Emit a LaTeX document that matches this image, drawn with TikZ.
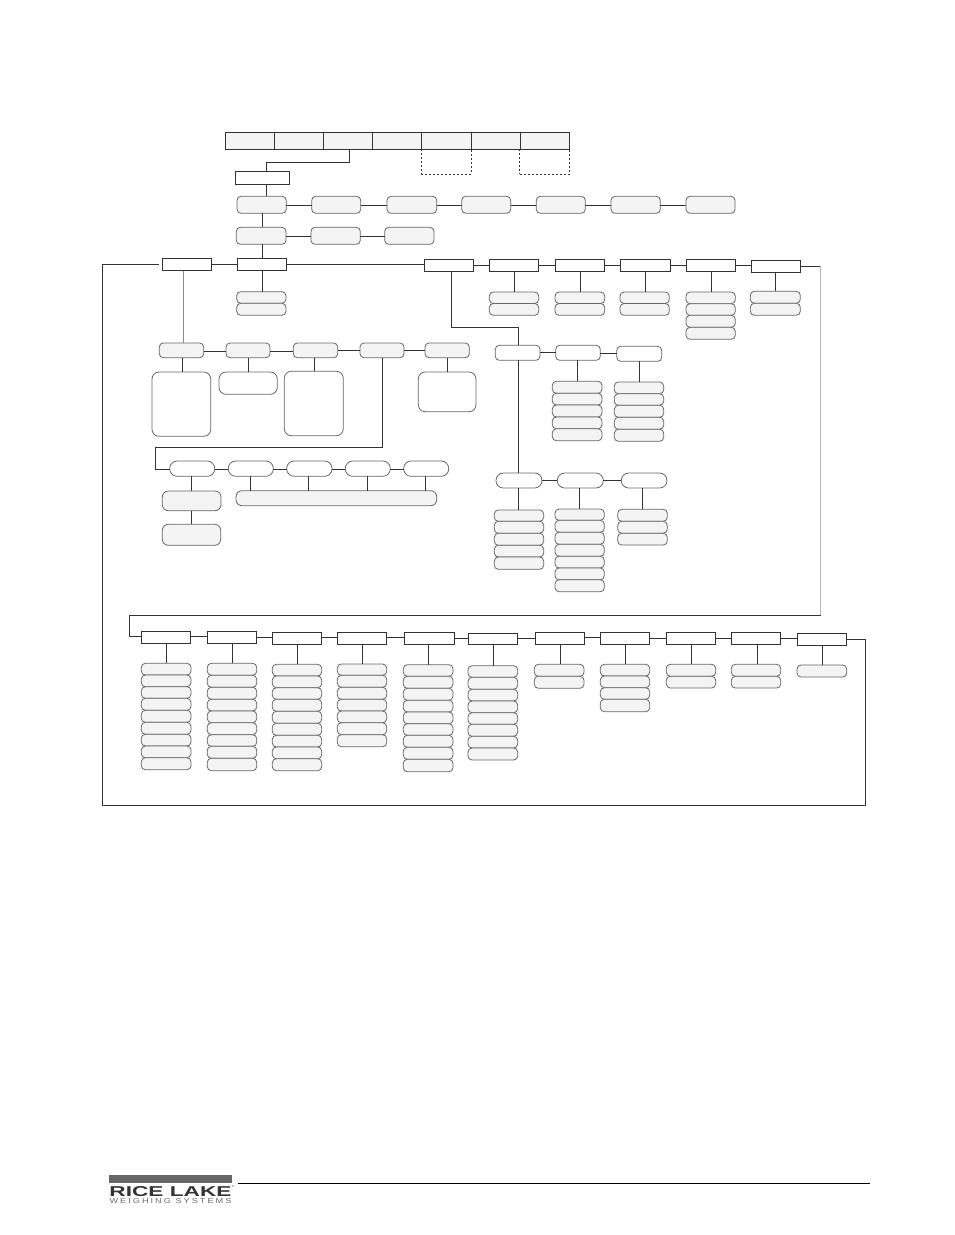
\documentclass[tikz,border=0pt]{standalone}
\usepackage{fontspec}
\usepackage{graphicx}
\setmainfont{Liberation Sans}
\definecolor{linedark}{HTML}{333333}
\definecolor{boxedge}{HTML}{666666}
\definecolor{boxfill}{HTML}{F4F4F4}
\tikzset{
  conn/.style={draw=linedark,line width=0.85pt},
  connlight/.style={draw=gray!55,line width=1.2pt},
  connmid/.style={draw=gray!90,line width=0.85pt},
  headbox/.style={rectangle,draw=linedark,line width=0.9pt,fill=white},
  tabbox/.style={rectangle,draw=linedark,line width=0.9pt,fill=boxfill},
  dashbox/.style={rectangle,draw=linedark,line width=0.9pt,dash pattern=on 2pt off 2pt},
  pill/.style={rectangle,rounded corners=4pt,draw=boxedge,line width=0.8pt,fill=boxfill},
  pillw/.style={rectangle,rounded corners=4pt,draw=boxedge,line width=0.8pt,fill=white},
  oval/.style={rectangle,rounded corners=7.4pt,draw=boxedge,line width=0.8pt,fill=white},
  bigw/.style={rectangle,rounded corners=7pt,draw=boxedge,line width=0.8pt,fill=white},
  bigg/.style={rectangle,rounded corners=6pt,draw=boxedge,line width=0.8pt,fill=boxfill},
}
% name, style, x1,y1,x2,y2
\newcommand{\bx}[6]{%
  \pgfmathsetmacro\bxw{#5-#3}\pgfmathsetmacro\bxh{#6-#4}%
  \pgfmathsetmacro\bxcx{(#3+#5)/2}\pgfmathsetmacro\bxcy{(#4+#6)/2}%
  \node[#2,minimum width=\bxw pt,minimum height=\bxh pt,inner sep=0pt,outer sep=0pt] (#1) at (\bxcx,\bxcy) {};}
% vertical link a->b at x
\newcommand{\vl}[3]{\coordinate (tmpv) at (#3,0);\draw[conn] (#1.south -| tmpv) -- (#2.north -| tmpv);}
% horizontal link a->b at y
\newcommand{\hl}[3]{\coordinate (tmph) at (0,#3);\draw[conn] (#1.east |- tmph) -- (#2.west |- tmph);}
% stack: name, parent, line x, x1, x2, y0, {y1,y2,...}
\newcommand{\stk}[7]{%
  \xdef\stkprev{#6}%
  \foreach \yy [count=\ii] in {#7}{%
    \bx{#1\ii}{pill}{#4}{\stkprev}{#5}{\yy}%
    \xdef\stkprev{\yy}}%
  \vl{#2}{#11}{#3}}
\begin{document}
\begin{tikzpicture}[x=1pt,y=-1pt]
\useasboundingbox (0,0) rectangle (954,1235);
\fill[white] (0,0) rectangle (954,1235);

% top tab row
\bx{dash1}{dashbox}{421.3}{149.5}{471.3}{174.3}
\bx{dash2}{dashbox}{519.6}{149.5}{569.7}{174.3}
\bx{tab1}{tabbox}{225.3}{132.5}{274.3}{149.5}
\bx{tab2}{tabbox}{274.3}{132.5}{323.3}{149.5}
\bx{tab3}{tabbox}{323.3}{132.5}{372.3}{149.5}
\bx{tab4}{tabbox}{372.3}{132.5}{421.3}{149.5}
\bx{tab5}{tabbox}{421.3}{132.5}{471.3}{149.5}
\bx{tab6}{tabbox}{471.3}{132.5}{520}{149.5}
\bx{tab7}{tabbox}{520}{132.5}{569.7}{149.5}
\bx{start}{headbox}{235.3}{171.3}{289.3}{184.3}
\coordinate (j1) at (349.3,162.3);
\coordinate (j2) at (266.3,162.3);
\draw[conn] (tab3.south -| j1) -- (j1) -- (j2) -- (j2 |- start.north);

% first pill row
\bx{ra1}{pill}{237}{196.3}{286.3}{213.3}
\bx{ra2}{pill}{311.7}{196.3}{360.7}{213.3}
\bx{ra3}{pill}{387}{196.3}{436.7}{213.3}
\bx{ra4}{pill}{461.7}{196.3}{510.7}{213.3}
\bx{ra5}{pill}{536.3}{196.3}{585.3}{213.3}
\bx{ra6}{pill}{611}{196.3}{660.3}{213.3}
\bx{ra7}{pill}{686}{196.3}{735}{213.3}
\vl{start}{ra1}{266.3}
\hl{ra1}{ra2}{205.3}\hl{ra2}{ra3}{205.3}\hl{ra3}{ra4}{205.3}\hl{ra4}{ra5}{205.3}\hl{ra5}{ra6}{205.3}\hl{ra6}{ra7}{205.3}

% second pill row
\bx{rb1}{pill}{236.3}{227.3}{286}{244.3}
\bx{rb2}{pill}{311}{227.3}{360.3}{244.3}
\bx{rb3}{pill}{384.7}{227.3}{434}{244.3}
\vl{ra1}{rb1}{262.3}
\hl{rb1}{rb2}{236.3}\hl{rb2}{rb3}{236.3}

% header row
\bx{ha}{headbox}{162.3}{258.3}{211.7}{270.5}
\bx{hb}{headbox}{237.3}{258.3}{286.3}{270.5}
\bx{hc}{headbox}{424.3}{259.3}{473.7}{271.5}
\bx{hd}{headbox}{489.3}{259.3}{538.7}{271.5}
\bx{he}{headbox}{555.3}{259.3}{604.7}{271.5}
\bx{hf}{headbox}{620.3}{259.3}{670.7}{271.5}
\bx{hg}{headbox}{686.3}{259.3}{735.7}{271.5}
\bx{hh}{headbox}{751.3}{260.3}{800.7}{272.7}
\vl{rb1}{hb}{262.3}
\hl{ha}{hb}{264.3}\hl{hb}{hc}{264.3}
\hl{hc}{hd}{265.3}\hl{hd}{he}{265.3}\hl{he}{hf}{265.3}\hl{hf}{hg}{265.3}\hl{hg}{hh}{265.3}

% header-row stacks
\stk{sb}{hb}{262.3}{236.7}{286}{291.7}{303.3,315.3}
\stk{sd}{hd}{514.3}{489.3}{538.7}{292}{303.5,315.3}
\stk{se}{he}{580.3}{555}{604.7}{292}{303.5,315.3}
\stk{sf}{hf}{645.3}{620}{669.3}{292}{303.5,315.3}
\stk{sg}{hg}{711.3}{686}{735.3}{292}{303.7,315.3,327.3,339.3}
\stk{sh}{hh}{775}{750.3}{800.3}{291.3}{303.3,315.3}

% left branch
\bx{la1}{pill}{159.3}{343}{203.7}{357.7}
\bx{la2}{pill}{226}{343}{270}{357.7}
\bx{la3}{pill}{293.3}{343}{337.7}{357.7}
\bx{la4}{pill}{360}{343}{404}{357.7}
\bx{la5}{pill}{425}{343}{469.3}{357.7}
\coordinate (lgx) at (183.3,0);
\draw[connmid] (ha.south -| lgx) -- (la1.north -| lgx);
\hl{la1}{la2}{351.3}\hl{la2}{la3}{351.3}\hl{la3}{la4}{350}\hl{la4}{la5}{350}
\bx{lb1}{bigw}{152}{372}{210.7}{436.3}
\bx{lb2}{bigw}{219}{372}{277.3}{394.3}
\bx{lb3}{bigw}{284.3}{371.3}{343.3}{435.7}
\bx{lb5}{bigw}{418.3}{372}{476}{411.7}
\vl{la1}{lb1}{182.3}\vl{la2}{lb2}{248.3}\vl{la3}{lb3}{314.3}\vl{la5}{lb5}{447.3}

% sub-row of left branch
\bx{lc1}{oval}{169.7}{461}{214.7}{476.3}
\bx{lc2}{oval}{228.3}{461}{273.3}{476.3}
\bx{lc3}{oval}{286.7}{461}{332}{476.3}
\bx{lc4}{oval}{345.3}{461}{390.3}{476.3}
\bx{lc5}{oval}{403.7}{461}{448.7}{476.3}
\coordinate (k1) at (382.3,447.3);
\coordinate (k2) at (155.3,447.3);
\coordinate (k3) at (155.3,469.3);
\draw[conn] (la4.south -| k1) -- (k1) -- (k2) -- (k3) -- (lc1.west |- k3);
\hl{lc1}{lc2}{469.3}\hl{lc2}{lc3}{469.3}\hl{lc3}{lc4}{469.3}\hl{lc4}{lc5}{469.3}
\bx{ld1}{bigg}{162.3}{491}{221}{510.7}
\bx{ld2}{bigg}{162.3}{524.3}{220.7}{545.3}
\bx{ldw}{bigg}{236}{490.7}{436.7}{505.7}
\vl{lc1}{ld1}{191.3}\vl{ld1}{ld2}{191.3}
\vl{lc2}{ldw}{250.3}\vl{lc3}{ldw}{308.3}\vl{lc4}{ldw}{367.3}\vl{lc5}{ldw}{425.3}

% middle branch
\bx{ma1}{pillw}{495.3}{345.3}{540}{360.3}
\bx{ma2}{pillw}{555.7}{345.3}{600.3}{360.3}
\bx{ma3}{pillw}{616.7}{346.3}{661.7}{361.3}
\coordinate (m1) at (451.3,327.3);
\coordinate (m2) at (518.3,327.3);
\draw[conn] (hc.south -| m1) -- (m1) -- (m2) -- (ma1.north -| m2);
\hl{ma1}{ma2}{352.3}\hl{ma2}{ma3}{353.3}
\stk{mb}{ma2}{577.3}{552.3}{602}{381.3}{393.3,405,417,428.7,440.7}
\stk{mc}{ma3}{639.3}{614.3}{663.7}{382}{393.7,405.3,417.3,429.3,441.3}
\bx{md1}{oval}{496}{473}{542}{488}
\bx{md2}{oval}{557.3}{473}{603.3}{488}
\bx{md3}{oval}{621.3}{473}{667}{488}
\vl{ma1}{md1}{518.3}
\hl{md1}{md2}{480.3}\hl{md2}{md3}{480.3}
\stk{me}{md1}{518.3}{494.3}{543.7}{510}{521.3,533.3,545.3,557,569.3}
\stk{mf}{md2}{579.3}{555}{604.3}{509}{520.3,532.3,544.3,556.3,568,579.7,591.7}
\stk{mg}{md3}{642.3}{617.7}{667.3}{509.3}{521.3,533.3,545}

% bottom header row
\bx{b1}{headbox}{141.3}{631.3}{190.7}{643.3}
\bx{b2}{headbox}{207.3}{631.3}{256.7}{643.3}
\bx{b3}{headbox}{272.3}{632.3}{321.7}{644.7}
\bx{b4}{headbox}{337.3}{632.3}{386.7}{644.7}
\bx{b5}{headbox}{404.3}{632.3}{454}{644.7}
\bx{b6}{headbox}{468.3}{633.3}{517.7}{644.7}
\bx{b7}{headbox}{535.3}{632.3}{584.7}{644.7}
\bx{b8}{headbox}{600.3}{632.3}{649.7}{644.7}
\bx{b9}{headbox}{666.3}{632.3}{715.7}{644.7}
\bx{b10}{headbox}{731.3}{632.3}{780.7}{644.7}
\bx{b11}{headbox}{797.3}{633.3}{846.7}{645.7}
\hl{b1}{b2}{636.3}\hl{b2}{b3}{637.3}\hl{b3}{b4}{637.3}\hl{b4}{b5}{637.3}\hl{b5}{b6}{638.3}
\hl{b6}{b7}{638.3}\hl{b7}{b8}{637.3}\hl{b8}{b9}{638.3}\hl{b9}{b10}{638.3}\hl{b10}{b11}{638.3}

% bottom stacks
\stk{t}{b1}{166.3}{141.3}{191}{663.3}{675,686.7,698.3,710.3,722.3,734.3,746,757.7,769.7}
\stk{u}{b2}{232.3}{207.3}{256.7}{663.3}{675.3,687.3,699.3,711,722.7,734.7,746.3,758.3,770.7}
\stk{v}{b3}{297.3}{272.3}{321.7}{664.3}{676,687.7,699.3,711.3,723.3,735.3,747,758.7,770.7}
\stk{w}{b4}{362.3}{337.3}{386.7}{664}{675.3,687.3,699.3,711,722.7,734.7,746.7}
\stk{xa}{b5}{428.3}{403.3}{453}{664.7}{676.3,688.3,700.3,712,723.7,735.3,747.3,759.3,771.7}
\stk{xb}{b6}{493.3}{468}{517.7}{665.7}{677.3,689.3,701,712.7,724.3,736.3,748,760}
\stk{xc}{b7}{560.3}{534.3}{584}{664.3}{676.3,688.3}
\stk{xd}{b8}{625.3}{600.3}{649.7}{664.3}{676,687.7,699.3,711.7}
\stk{xe}{b9}{691.7}{666.3}{715.7}{664.3}{676.3,688}
\stk{xf}{b10}{757.3}{731.3}{780.7}{664.3}{676.3,688}
\stk{xg}{b11}{822.7}{797}{846.7}{665}{677}

% wrap-around connectors
\coordinate (ra) at (820.7,266.3);
\coordinate (rb) at (820.7,615.3);
\coordinate (rc) at (129.3,615.3);
\coordinate (rd) at (129.3,636.3);
\draw[conn] (hh.east |- ra) -- (ra);
\draw[connlight] (ra) -- (rb);
\draw[conn] (rb) -- (rc) -- (rd) -- (b1.west |- rd);
\coordinate (oa) at (102.5,264.3);
\coordinate (ob) at (102.5,805.3);
\coordinate (oc) at (865.3,805.3);
\coordinate (od) at (865.3,639.3);
\draw[conn,shorten >=3pt] (b11.east |- od) -- (od) -- (oc) -- (ob) -- (oa) -- (ha.west |- oa);

% footer and logo
\bx{logobar}{rectangle,fill=gray!80!black,draw=none}{109}{1175}{232}{1183}
\coordinate (rulestart) at (237.7,1183.5);
\coordinate (ruleend) at (870,1183.5);
\draw[black,line width=0.8pt] (rulestart) -- (ruleend);
\node[inner sep=0pt,outer sep=0pt,text=linedark] (logoa) at (170.5,1191.2)
  {\resizebox{122pt}{10pt}{\bfseries RICE LAKE}};
\node[inner sep=0pt,outer sep=0pt,text=gray!85!black] (logob) at (170.5,1201)
  {\resizebox{122pt}{5pt}{\addfontfeature{LetterSpace=22}WEIGHING SYSTEMS}};
\node[inner sep=0pt,outer sep=0pt,text=linedark,font=\fontsize{3}{3}\selectfont] (logoc) at (233,1186) {®};
\end{tikzpicture}
\end{document}
